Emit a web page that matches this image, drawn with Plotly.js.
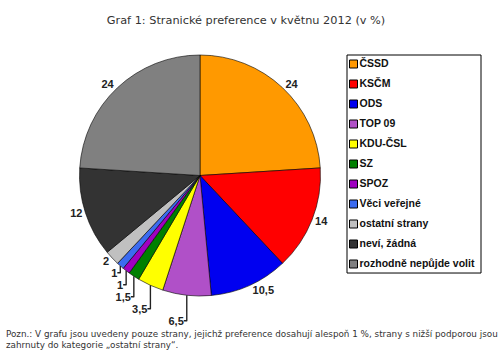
<!DOCTYPE html>
<html><head><meta charset="utf-8">
<script src="https://cdn.plot.ly/plotly-3.0.1.min.js"></script>
<style>html,body{margin:0;padding:0;background:#fff}#c{width:500px;height:356px}</style>
</head><body><div id="c"></div>
<script>
const parties = ["ČSSD","KSČM","ODS","TOP 09","KDU-ČSL","SZ","SPOZ","Věci veřejné","ostatní strany","neví, žádná","rozhodně nepůjde volit"];
const shares = [24,14,10.5,6.5,3.5,1.5,1,1,2,12,24];
const colors = ["#FF9900","#FF0000","#0000F0","#B050C8","#FFFF00","#008000","#A000C0","#3B6BF0","#C0C0C0","#333333","#808080"];
const labelsText = shares.map(v => String(v).replace('.', ','));

const pie = {
  type: 'pie',
  labels: parties,
  values: shares,
  text: labelsText,
  textinfo: 'text',
  textposition: 'outside',
  sort: false,
  direction: 'clockwise',
  rotation: 0,
  marker: {colors: colors, line: {color: '#000', width: 0.6}},
  textfont: {family: 'Liberation Sans, Arial', size: 11, color: '#222', weight: 'bold'},
  domain: {x: [0.159, 0.641], y: [0.167, 0.847]},
  showlegend: false,
  hoverinfo: 'none'
};

// legend drawn as a marker trace keyed by category
const legendTrace = {
  type: 'scatter',
  mode: 'markers+text',
  x: parties.map(() => 0),
  y: parties,
  text: parties,
  textposition: 'middle right',
  textfont: {family: 'Liberation Sans, Arial', size: 10.5, color: '#111', weight: 'bold'},
  marker: {symbol: 'square', size: 8, color: colors, line: {color: '#000', width: 1}},
  xaxis: 'x2', yaxis: 'y2',
  cliponaxis: false,
  showlegend: false,
  hoverinfo: 'none'
};

const hidden = {visible: false, fixedrange: true};
const layout = {
  width: 500, height: 356,
  margin: {l: 0, r: 0, t: 0, b: 0},
  paper_bgcolor: '#fff', plot_bgcolor: 'rgba(0,0,0,0)',
  showlegend: false,
  title: {text: 'Graf 1: Stranické preference v květnu 2012 (v %)', font: {family: 'DejaVu Sans, Verdana', size: 11.3, color: '#333'}, x: 0.492, xanchor: 'center', y: 0.944, yanchor: 'middle', xref: 'paper', yref: 'paper'},
  xaxis2: Object.assign({domain: [0.694, 0.962], range: [-6.5, 127.5], anchor: 'y2'}, hidden),
  yaxis2: Object.assign({domain: [0.2303, 0.8483], type: 'category', range: [10.5, -0.5], anchor: 'x2'}, hidden),
  shapes: [{type: 'rect', xref: 'paper', yref: 'paper', x0: 0.694, x1: 0.962, y0: 0.2331, y1: 0.8455, line: {color: '#000', width: 1}, fillcolor: 'rgba(0,0,0,0)'}],
  annotations: [{
    text: 'Pozn.: V grafu jsou uvedeny pouze strany, jejichž preference dosahují alespoň 1 %, strany s nižší podporou jsou<br>zahrnuty do kategorie „ostatní strany“.',
    xref: 'paper', yref: 'paper', x: 0.008, y: 0.012, xanchor: 'left', yanchor: 'bottom', align: 'left', showarrow: false,
    font: {family: 'DejaVu Sans, Verdana', size: 8.8, color: '#333'}
  }]
};
Plotly.newPlot('c', [pie, legendTrace], layout, {staticPlot: true});
</script></body></html>
